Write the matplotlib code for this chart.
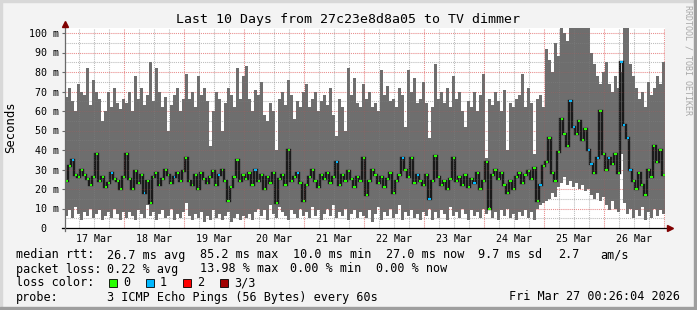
import numpy as np
import matplotlib.pyplot as plt
from matplotlib.patches import Rectangle

W, H = 697, 310
plt.rcParams['font.family'] = ['DejaVu Sans Mono', 'DejaVu Sans']

# 72 minute bins, hours since Mar 17 00:00 (graph starts Mar 17 00:26)
start_h = 0.434
bin_h = 1.2

# top of the smoke (slowest ping), ms, one row per day
rtt_hi = [
    67, 72, 65, 60, 74, 70, 68, 82, 63, 76, 70, 66, 55, 60, 70, 62, 72, 64, 61, 66,
    64, 70, 60, 78, 66, 72, 63, 68, 85, 65, 82, 70, 62, 67, 50, 63, 68, 72, 60, 66,
    79, 66, 70, 62, 78, 68, 72, 65, 42, 60, 70, 66, 50, 64, 72, 68, 62, 82, 66, 78,
    83, 66, 60, 71, 68, 75, 58, 55, 64, 60, 40, 66, 70, 63, 76, 68, 56, 65, 62, 70,
    74, 62, 66, 70, 60, 65, 68, 63, 72, 58, 47, 66, 62, 50, 82, 68, 77, 64, 62, 74,
    66, 70, 62, 64, 60, 81, 68, 73, 65, 66, 62, 72, 68, 52, 81, 70, 77, 64, 66, 75,
    64, 46, 62, 84, 66, 70, 64, 72, 62, 78, 66, 70, 60, 52, 65, 62, 70, 60, 68, 79,
    36, 66, 63, 70, 65, 60, 71, 40, 64, 62, 66, 68, 79, 62, 72, 64, 38, 66, 68, 62,
    92, 86, 80, 95, 88, 103, 100, 96, 103, 103, 103, 103, 103, 103, 103, 90, 84, 78, 74, 80,
    85, 74, 70, 78, 72, 80, 103, 103, 84, 78, 72, 66, 70, 62, 75, 68, 72, 78, 74, 85,
]

# bottom of the smoke (fastest ping), ms
rtt_lo = [
    6, 9, 5, 11, 7, 4, 8, 6, 10, 5, 7, 9, 4, 6, 8, 5, 10, 7, 4, 8,
    5, 8, 6, 4, 9, 7, 5, 12, 6, 8, 4, 7, 9, 5, 6, 10, 4, 7, 5, 8,
    13, 6, 4, 7, 5, 8, 3, 6, 4, 9, 5, 7, 4, 6, 8, 3, 5, 7, 4, 6,
    5, 7, 4, 8, 10, 6, 9, 4, 12, 7, 5, 11, 8, 6, 4, 9, 7, 5, 10, 6,
    8, 5, 11, 6, 9, 4, 7, 10, 6, 12, 5, 8, 6, 10, 4, 7, 9, 5, 8, 6,
    5, 9, 3, 7, 11, 4, 8, 6, 10, 5, 7, 12, 4, 8, 6, 9, 5, 7, 4, 8,
    6, 10, 4, 8, 5, 9, 7, 4, 11, 6, 8, 5, 10, 7, 4, 9, 6, 8, 5, 10,
    7, 11, 5, 8, 4, 9, 6, 10, 5, 7, 4, 8, 6, 9, 5, 8, 4, 10, 12, 13,
    14, 15, 18, 16, 21, 23, 26, 22, 24, 21, 23, 20, 22, 19, 20, 17, 15, 18, 14, 16,
    12, 9, 14, 10, 8, 38, 13, 7, 10, 5, 9, 6, 11, 4, 8, 5, 10, 6, 9, 7,
]

# median rtt, ms
rtt_med = [
    24, 32, 35, 27, 26, 30, 27, 25, 22, 26, 38, 24, 26, 21, 23, 28, 25, 24, 20, 26,
    38, 25, 20, 29, 23, 27, 18, 24, 13, 26, 28, 22, 25, 30, 27, 23, 26, 28, 24, 29,
    36, 24, 22, 27, 20, 28, 25, 23, 26, 29, 22, 27, 30, 24, 14, 21, 26, 35, 24, 27,
    25, 28, 22, 30, 24, 27, 20, 26, 23, 28, 13, 25, 27, 22, 40, 24, 26, 28, 23, 14,
    22, 26, 30, 24, 21, 27, 25, 28, 23, 26, 34, 22, 27, 24, 29, 25, 21, 26, 24, 36,
    17, 24, 30, 27, 23, 26, 21, 25, 28, 18, 24, 27, 36, 30, 26, 36, 23, 27, 24, 22,
    27, 15, 24, 37, 26, 22, 24, 20, 25, 36, 24, 26, 22, 27, 21, 25, 23, 28, 20, 24,
    34, 10, 27, 30, 25, 28, 22, 18, 24, 20, 26, 28, 23, 27, 29, 25, 31, 14, 22, 32,
    34, 46, 28, 24, 39, 56, 48, 42, 65, 52, 48, 55, 45, 51, 40, 33, 28, 36, 60, 38,
    30, 36, 33, 38, 28, 85, 53, 46, 30, 24, 20, 28, 22, 17, 30, 26, 42, 34, 40, 27,
]

# lost pings per bin (out of 3)
loss_rows = [
    "00100000000000010000",
    "00000010000000001000",
    "00000000000100000000",
    "00010000000000000100",
    "00000000001000000000",
    "00000000000010000100",
    "01000000000000001000",
    "00000000000000000010",
    "00000000110000110100",
    "01000111100000000000",
]
loss = [int(c) for c in "".join(loss_rows)]

loss_colors = ['#26ff00', '#00b8ff', '#ff0000', '#a10000']
loss_names = ['0', '1', '2', '3/3']
day_labels = ['17 Mar', '18 Mar', '19 Mar', '20 Mar', '21 Mar',
              '22 Mar', '23 Mar', '24 Mar', '25 Mar', '26 Mar']
y_ticks = [0, 10, 20, 30, 40, 50, 60, 70, 80, 90, 100]

px_h = 240 / 600.0      # hours per pixel
px_v = 1 / 1.95         # ms per pixel

fig = plt.figure(figsize=(W / 100, H / 100), dpi=100, facecolor='#f3f3f3')
ax = fig.add_axes([65 / W, 82 / H, 600 / W, 200 / H])
ax.set_facecolor('white')
ax.set_xlim(start_h, start_h + 240)
ax.set_ylim(0, 200 * px_v)
for s in ax.spines.values():
    s.set_visible(False)

edges = start_h + bin_h * np.arange(len(rtt_hi) + 1)
mids = (edges[:-1] + edges[1:]) / 2

# smoke
ax.stairs(rtt_hi, edges, baseline=rtt_lo, fill=True, color='#6e6e6e', lw=0, zorder=2)
# median
ax.stairs(rtt_med, edges, baseline=None, color='#1a1a1a', lw=1.7, zorder=3)
ax.hlines(rtt_med, mids - px_h, mids + px_h,
          colors=[loss_colors[l] for l in loss], lw=1.5, zorder=4)

# grid: full strength under the data, faint over it
dot = (0, (1, 1))
for h in range(6, 241, 6):
    c = '#de5050' if h % 24 == 0 else '#9a9a9a'
    ax.axvline(h, color=c, alpha=0.55, lw=0.75, ls=dot, zorder=1)
    ax.axvline(h, color=c, alpha=0.2, lw=0.75, ls=dot, zorder=5)
for v in range(5, 101, 5):
    c = '#de5050' if v % 10 == 0 else '#9a9a9a'
    ax.axhline(v, color=c, alpha=0.55, lw=0.75, ls=dot, zorder=1)
    ax.axhline(v, color=c, alpha=0.2, lw=0.75, ls=dot, zorder=5)

# axes with arrows
x0, x1 = start_h, start_h + 240
ax.plot([x0 - 3 * px_h, x1 + 3 * px_h], [0, 0], color='black', lw=0.9,
        clip_on=False, zorder=6)
ax.plot([x0, x0], [-3 * px_v, 200 * px_v + 2 * px_v], color='#6a6a6a', lw=0.9,
        clip_on=False, zorder=6)
ax.plot([x1 + 5 * px_h], [0], marker='>', color='#800000', ms=4, clip_on=False, zorder=7)
ax.plot([x0], [200 * px_v + 4 * px_v], marker='^', color='#800000', ms=4,
        clip_on=False, zorder=7)

ax.set_xticks([12 + 24 * i for i in range(10)], day_labels, fontsize=7.2)
ax.tick_params(axis='x', length=0, pad=4)
ax.set_yticks(y_ticks, ['0  '] + ['%d m' % v for v in y_ticks[1:]], fontsize=7.2)
ax.tick_params(axis='y', length=2.5, color='#6a6a6a', pad=2)

fig.text(0.5, 1 - 19 / H, 'Last 10 Days from 27c23e8d8a05 to TV dimmer',
         ha='center', va='center', fontsize=9.5)
fig.text(11 / W, 1 - 127 / H, 'Seconds', rotation=90, ha='center', va='center',
         fontsize=8.8)
fig.text(688 / W, 1 - 60 / H, 'RRDTOOL / TOBI OETIKER', rotation=270,
         ha='center', va='center', fontsize=6, color='#a8a8a8')


def put(xp, yp, s, **kw):
    fig.text(xp / W, 1 - yp / H, s, va='center', fontsize=8.5, **kw)


put(16, 255, 'median rtt:')
for xp, s in [(107, '26.7 ms avg'), (200, '85.2 ms max'), (293, '10.0 ms min'),
              (386, '27.0 ms now'), (478, '9.7 ms sd'), (558, '2.7'), (600, 'am/s')]:
    put(xp, 255, s)
put(16, 269, 'packet loss:')
for xp, s in [(107, '0.22 % avg'), (200, '13.98 % max'), (290, '0.00 % min'),
              (376, '0.00 % now')]:
    put(xp, 269, s)
put(16, 283, 'loss color:')
for i, (c, name) in enumerate(zip(loss_colors, loss_names)):
    xp = 109 + 37 * i
    fig.patches.append(Rectangle((xp / W, 1 - 287 / H), 8 / W, 8 / H,
                                 transform=fig.transFigure, facecolor=c,
                                 edgecolor='black', lw=0.6))
    put(xp + 14, 283, name)
put(16, 297, 'probe:')
put(107, 297, '3 ICMP Echo Pings (56 Bytes) every 60s')
put(680, 297, 'Fri Mar 27 00:26:04 2026', ha='right')

# frame shading
fig.patches.append(Rectangle((0, 1 - 2 / H), 1, 2 / H, transform=fig.transFigure,
                             color='#d8d8d8'))
fig.patches.append(Rectangle((0, 0), 2 / W, 1, transform=fig.transFigure,
                             color='#d8d8d8'))
fig.patches.append(Rectangle((0, 0), 1, 3 / H, transform=fig.transFigure,
                             color='#9e9e9e'))
fig.patches.append(Rectangle((1 - 3 / W, 0), 3 / W, 1, transform=fig.transFigure,
                             color='#9e9e9e'))

fig.savefig('out.png', dpi=100, facecolor=fig.get_facecolor())
